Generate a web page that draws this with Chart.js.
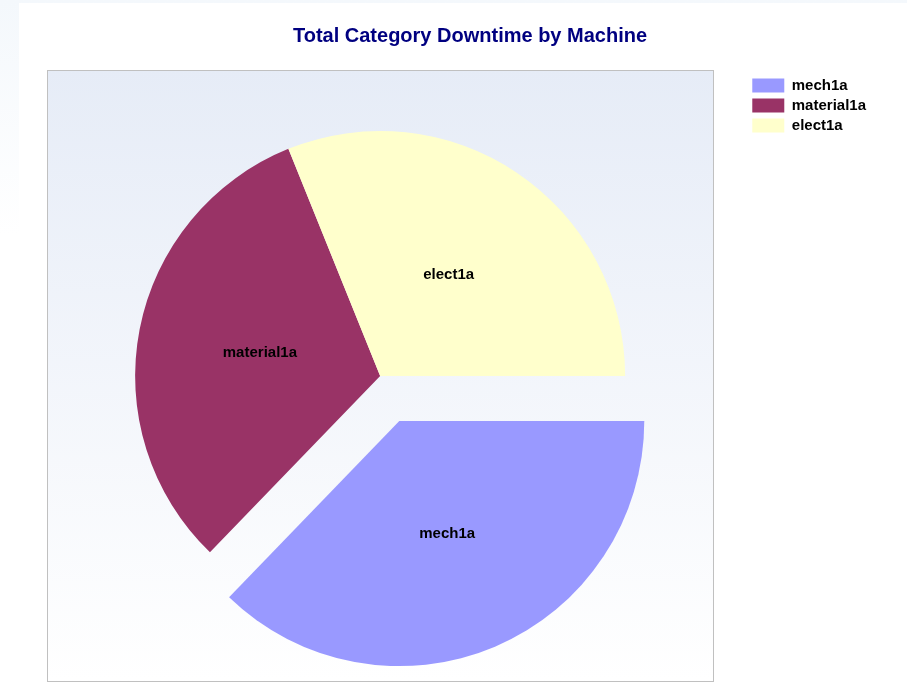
<!DOCTYPE html>
<html>
<head>
<meta charset="utf-8">
<title>Total Category Downtime by Machine</title>
<script src="https://cdn.jsdelivr.net/npm/chart.js@4.4.1/dist/chart.umd.min.js"></script>
<style>
  html, body { margin: 0; padding: 0; background: #fff; }
  #wrap { position: relative; width: 907px; height: 693px; }
</style>
</head>
<body>
<div id="wrap"><canvas id="downtime-pie"></canvas></div>
<script>
var chartTitle = "Total Category Downtime by Machine";
var machines = ["mech1a", "material1a", "elect1a"];
var downtime = [134, 114, 112];
var sliceColors = ["#9999FF", "#993366", "#FFFFCC"];
// pixels each slice is pulled out from the centre
var explode = [49, 0, 0];

// page + plot panel background, and the title
var backdrop = {
    id: 'backdrop',
    beforeDraw: function (chart) {
        var ctx = chart.ctx;
        ctx.save();
        var page = ctx.createLinearGradient(0, 0, 0, chart.height);
        page.addColorStop(0, '#f4f8fc');
        page.addColorStop(0.34, '#ffffff');
        page.addColorStop(1, '#ffffff');
        ctx.fillStyle = page;
        ctx.fillRect(0, 0, chart.width, chart.height);
        ctx.fillStyle = '#ffffff';
        ctx.fillRect(19, 3, chart.width - 19, chart.height - 3);

        var panel = ctx.createLinearGradient(0, 70, 0, 681);
        panel.addColorStop(0, '#e6ecf7');
        panel.addColorStop(1, '#ffffff');
        ctx.fillStyle = panel;
        ctx.fillRect(47, 70, 666, 611);
        ctx.strokeStyle = '#c0c0c0';
        ctx.lineWidth = 1;
        ctx.strokeRect(47.5, 70.5, 666, 611);

        ctx.font = 'bold 20px Arial';
        ctx.fillStyle = '#000080';
        ctx.textAlign = 'center';
        ctx.textBaseline = 'alphabetic';
        ctx.fillText(chartTitle, 470, 42);
        ctx.restore();
    }
};

// move exploded slices out along their middle angle
var explodeSlices = {
    id: 'explodeSlices',
    afterDatasetUpdate: function (chart, args) {
        args.meta.data.forEach(function (arc, i) {
            var d = explode[i] || 0;
            if (!d) return;
            var mid = (arc.startAngle + arc.endAngle) / 2;
            arc.x += Math.cos(mid) * d;
            arc.y += Math.sin(mid) * d;
        });
    }
};

// category name in the middle of each slice
var sliceLabels = {
    id: 'sliceLabels',
    afterDatasetsDraw: function (chart) {
        var ctx = chart.ctx;
        var meta = chart.getDatasetMeta(0);
        ctx.save();
        ctx.font = 'bold 15px Arial';
        ctx.fillStyle = '#000000';
        ctx.textAlign = 'center';
        ctx.textBaseline = 'middle';
        meta.data.forEach(function (arc, i) {
            var mid = (arc.startAngle + arc.endAngle) / 2;
            var r = arc.outerRadius / 2;
            ctx.fillText(chart.data.labels[i], arc.x + Math.cos(mid) * r, arc.y + Math.sin(mid) * r);
        });
        ctx.restore();
    }
};

new Chart(document.getElementById('downtime-pie'), {
    type: 'pie',
    data: {
        labels: machines,
        datasets: [{
            data: downtime,
            backgroundColor: sliceColors,
            borderWidth: 0
        }]
    },
    options: {
        responsive: true,
        maintainAspectRatio: false,
        animation: false,
        rotation: 90,
        radius: 245,
        layout: {
            padding: { top: 73, left: 13, right: 31, bottom: 14 }
        },
        plugins: {
            title: { display: false },
            tooltip: { enabled: false },
            legend: {
                position: 'right',
                align: 'start',
                labels: {
                    boxWidth: 32,
                    boxHeight: 14,
                    padding: 5,
                    color: '#000000',
                    font: { family: 'Arial', size: 15, weight: 'bold' }
                }
            }
        }
    },
    plugins: [backdrop, explodeSlices, sliceLabels]
});
</script>
</body>
</html>
